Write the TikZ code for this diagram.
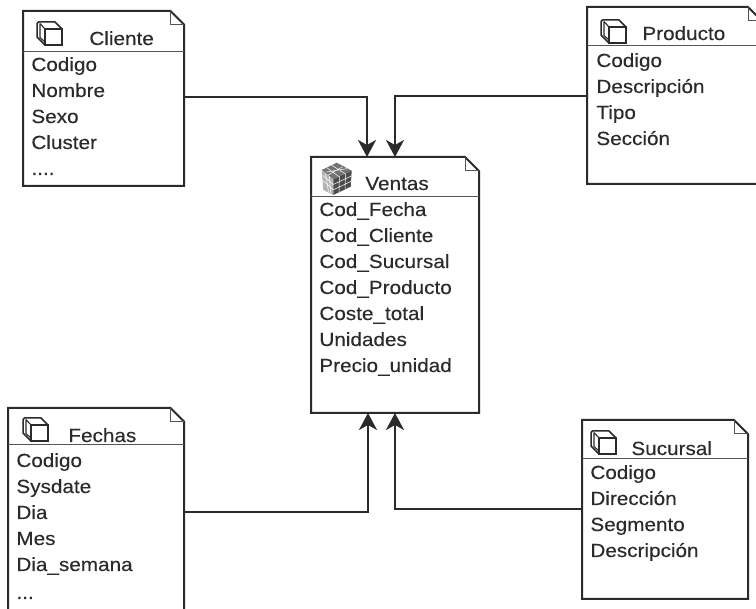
\documentclass[tikz,border=0pt]{standalone}
\usepackage{fontspec}
\setmainfont{Liberation Sans}[FakeStretch=1.09,FakeBold=0.2]
\usetikzlibrary{arrows.meta,calc}
\definecolor{ink}{HTML}{2B2B2B}
\tikzset{
  boxline/.style={draw=ink,line width=2pt,line join=miter},
  thinline/.style={draw=ink!80,line width=1pt},
  conn/.style={draw=ink,line width=2.2pt,-{Stealth[length=17pt,width=18pt,inset=5pt]},line join=miter},
  itemtext/.style={anchor=base west,inner sep=0pt,xshift=-0.8pt,text=ink,font=\fontsize{19}{19}\selectfont},
  iconback/.style={draw=ink,line width=1.5pt,line join=round},
  iconfront/.style={draw=ink,line width=2.1pt,fill=white},
}
% name, left, top, right, bottom, fold size, divider y
\newcommand{\umlbox}[7]{%
  \path let \n1={(#2+#4)/2}, \n2={(#3+#5)/2}, \n3={#4-#2}, \n4={#5-#3} in
    node[inner sep=0pt,outer sep=0pt,minimum width=\n3*1pt,minimum height=\n4*1pt] (#1) at (\n1,\n2) {};
  \draw[boxline] (#2,#3) -- ({#4-#6},#3) -- (#4,{#3+#6}) -- (#4,#5) -- (#2,#5) -- cycle;
  \draw[thinline] ({#4-#6},#3) -- ({#4-#6},{#3+#6}) -- (#4,{#3+#6});
  \draw[thinline] (#2,#7) -- (#4,#7);
}
\newcommand{\wireicon}[2]{%
  \begin{scope}[shift={(#1,#2)}]
    \draw[iconback] (1.5,0) -- (18,0) -- (25,7) -- (25,23) -- (8,23) -- (0,15) -- (0,1.5) -- cycle;
    \draw[iconback,line width=1.1pt] (3,1.5) -- (8,7) (3,1.5) -- (3,15.5) -- (8,20);
    \draw[iconfront] (8,7) rectangle (25,23);
  \end{scope}%
}
\begin{document}
\begin{tikzpicture}[x=1pt,y=-1pt]
\useasboundingbox (0,0) rectangle (756,609);
\clip (0,0) rectangle (756,609);
\fill[white] (0,0) rectangle (756,609);

\umlbox{cliente}{23}{11}{184}{186}{13.5}{52}
\umlbox{producto}{587}{7}{762}{184}{14}{46}
\umlbox{ventas}{311}{157}{479}{413}{14}{197}
\umlbox{fechas}{8}{408}{184}{625}{13.5}{445}
\umlbox{sucursal}{582}{420}{748}{599}{14}{459}

\wireicon{37}{22}
\wireicon{601}{20}
\wireicon{23}{418}
\wireicon{591}{431}

% Ventas cube icon
\fill[black!55] (336.7,162.7) -- (321.7,170) -- (333.3,179.3) -- (351.7,170.7) -- cycle;
\fill[black!30] (321.7,170) -- (333.3,179.3) -- (333.3,195) -- (323.3,190) -- cycle;
\fill[black!70] (333.3,179.3) -- (351.7,170.7) -- (350.7,186.7) -- (333.3,195) -- cycle;
\draw[white,line width=.5pt]
  (326.7,167.6) -- (339.4,177) (331.7,165.2) -- (345.5,174)
  (327.7,175.2) -- (342.4,167) (326,172) -- (347,168.7)
  (325.6,173.1) -- (328.5,192) (329.4,176.2) -- (330.7,193.7)
  (339.4,176.4) -- (339,192.2) (345.5,173.6) -- (345,189.4)
  (322.7,175.3) -- (333.3,184.5) (323,180.6) -- (333.3,189.8)
  (333.3,184.5) -- (351.3,176) (333.3,189.8) -- (351,181.4);

% Texts
\node[itemtext] (tc) at (90,45) {Cliente};
\node[itemtext] (c1) at (32,71) {Codigo};
\node[itemtext] (c2) at (32,97) {Nombre};
\node[itemtext] (c3) at (32,123) {Sexo};
\node[itemtext] (c4) at (32,149) {Cluster};
\node[itemtext] (c5) at (32,175) {....};

\node[itemtext] (tp) at (643,40) {Producto};
\node[itemtext] (p1) at (597,67) {Codigo};
\node[itemtext] (p2) at (597,93) {Descripción};
\node[itemtext] (p3) at (597,119) {Tipo};
\node[itemtext] (p4) at (597,145) {Sección};

\node[itemtext] (tv) at (366,190) {Ventas};
\node[itemtext] (v1) at (320,216) {Cod\_Fecha};
\node[itemtext] (v2) at (320,242) {Cod\_Cliente};
\node[itemtext] (v3) at (320,268) {Cod\_Sucursal};
\node[itemtext] (v4) at (320,294) {Cod\_Producto};
\node[itemtext] (v5) at (320,320) {Coste\_total};
\node[itemtext] (v6) at (320,346) {Unidades};
\node[itemtext] (v7) at (320,372) {Precio\_unidad};

\node[itemtext] (tf) at (69,442) {Fechas};
\node[itemtext] (f1) at (17,467) {Codigo};
\node[itemtext] (f2) at (17,493) {Sysdate};
\node[itemtext] (f3) at (17,519) {Dia};
\node[itemtext] (f4) at (17,545) {Mes};
\node[itemtext] (f5) at (17,571) {Dia\_semana};
\node[itemtext] (f6) at (17,599) {...};

\node[itemtext] (ts) at (632,455) {Sucursal};
\node[itemtext] (s1) at (591,479) {Codigo};
\node[itemtext] (s2) at (591,505) {Dirección};
\node[itemtext] (s3) at (591,531) {Segmento};
\node[itemtext] (s4) at (591,557) {Descripción};

% Connectors
\coordinate (jc) at (367,97);
\coordinate (jp) at (395,96);
\coordinate (jf) at (368,512);
\coordinate (js) at (395,509);
\draw[conn] (cliente.east |- jc) -- (jc) -- (ventas.north -| jc);
\draw[conn] (producto.west |- jp) -- (jp) -- (ventas.north -| jp);
\draw[conn] (fechas.east |- jf) -- (jf) -- (ventas.south -| jf);
\draw[conn] (sucursal.west |- js) -- (js) -- (ventas.south -| js);
\end{tikzpicture}
\end{document}
